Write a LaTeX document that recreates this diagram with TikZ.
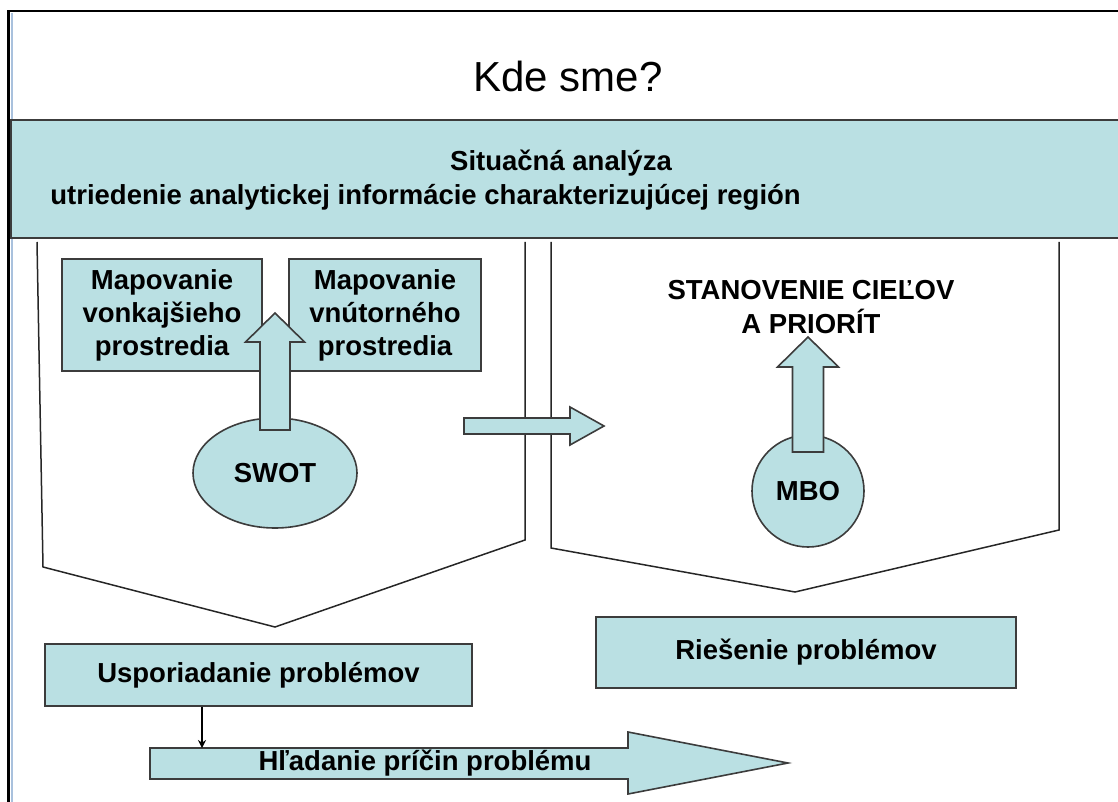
\documentclass[tikz,border=0pt]{standalone}
\usepackage{fontspec}
\setmainfont{Liberation Sans}
\usepackage{tikz}
\usetikzlibrary{shapes,arrows,arrows.meta,positioning,calc}

\definecolor{boxfill}{HTML}{BAE0E3}
\definecolor{boxedge}{HTML}{3C3C3C}
\definecolor{slideblue}{HTML}{A9C1DD}

\begin{document}
\begin{tikzpicture}[
    x=0.5pt, y=-0.5pt,
    box/.style={rectangle, draw=boxedge, fill=boxfill, line width=0.8pt, inner sep=0pt, align=center, font=\fontsize{13.75}{16.5}\selectfont\bfseries},
    oval/.style={ellipse, draw=boxedge, fill=boxfill, line width=0.8pt, inner sep=0pt, font=\fontsize{13.75}{16.5}\selectfont\bfseries},
    txt/.style={inner sep=0pt, align=center, font=\fontsize{13.75}{17}\selectfont\bfseries},
    funnel/.style={draw=black!85, line width=0.75pt},
    blockarrow/.style={draw=boxedge, fill=boxfill, line width=0.8pt, line join=miter},
    arrow/.style={-{Stealth[length=4pt,width=4pt]}, line width=0.6pt}
]
\useasboundingbox (0,0) rectangle (1118,802);

% Slide frame
\draw[slideblue, line width=1pt] (12,13) -- (12,802);
\draw[line width=1pt] (7,11) -- (1118,11);
\draw[line width=1.5pt] (8,11) -- (8,802);

% Title
\node[anchor=base, inner sep=0pt, font=\fontsize{21}{25}\selectfont] (title) at (568,92) {Kde sme?};

% Situation analysis banner
\node[box, minimum width=555pt, minimum height=59pt] (banner) at (566,179) {};
\node[txt, anchor=base] (situacna) at (561,171) {Situačná analýza};
\node[txt, anchor=base west] (utriedenie) at (50,205) {utriedenie analytickej informácie charakterizujúcej región};

% Funnels
\draw[funnel] (37,242) -- (43,567) -- (275,627) -- (525,540) -- (525,242);
\draw[funnel] (551,242) -- (551,548) -- (795,592) -- (1059,530) -- (1059,242);

% Middle block arrow
\draw[blockarrow] (464,418) -- (570,418) -- (570,407) -- (604,426) -- (570,445) -- (570,434) -- (464,434) -- cycle;

% Left funnel content
\node[box, minimum width=100pt, minimum height=56pt] (vonkajsie) at (162,315) {Mapovanie\\vonkajšieho\\prostredia};
\node[box, minimum width=96pt, minimum height=56pt] (vnutorne) at (385,315) {Mapovanie\\vnútorného\\prostredia};
\node[oval, minimum width=82pt, minimum height=55pt] (swot) at (275,473) {SWOT};
\draw[blockarrow] (260,430) -- (260,342) -- (245.5,342) -- (275,313) -- (304.5,342) -- (290,342) -- (290,430) -- cycle;

% Right funnel content
\node[txt] (ciele) at (811,307) {STANOVENIE CIEĽOV\\A PRIORÍT};
\node[oval, circle, minimum size=56pt] (mbo) at (808,491) {MBO};
\draw[blockarrow] (792.5,452) -- (792.5,367) -- (777.5,367) -- (808,337) -- (838.5,367) -- (823.5,367) -- (823.5,452) -- cycle;

% Problems
\node[box, minimum width=213.5pt, minimum height=31pt] (usporiadanie) at (258.5,675) {Usporiadanie problémov};
\node[box, minimum width=210pt, minimum height=35.5pt] (riesenie) at (806,652.5) {Riešenie problémov};

% Bottom block arrow
\draw[blockarrow] (150,748) -- (628,748) -- (628,732) -- (788,763) -- (628,794) -- (628,779) -- (150,779) -- cycle;
\node[txt] (hladanie) at (425,763) {Hľadanie príčin problému};
\coordinate (hltop) at (202,748);
\draw[arrow] (usporiadanie.south -| hltop) -- (hltop);

\end{tikzpicture}
\end{document}
